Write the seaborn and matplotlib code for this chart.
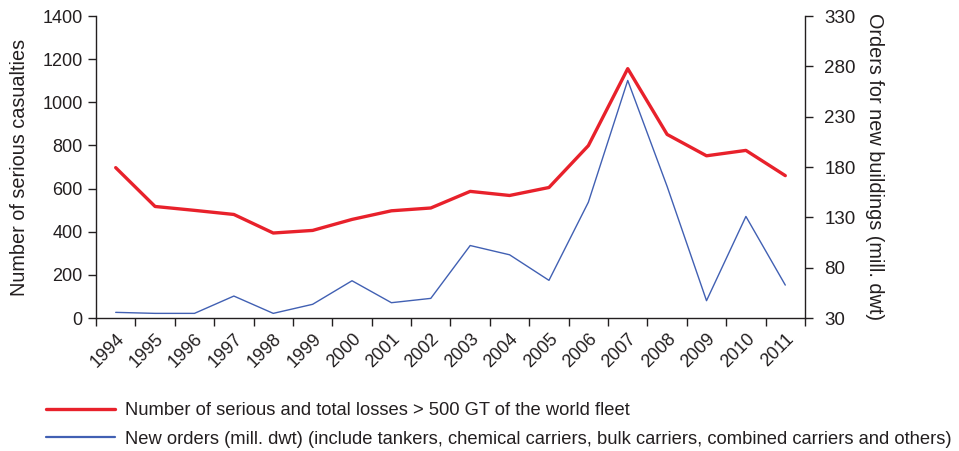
import numpy as np
import pandas as pd
import seaborn as sns
import matplotlib.pyplot as plt

years = [str(y) for y in range(1994, 2012)]
casualties = [697, 517, 499, 480, 394, 406, 457, 497, 510, 587,
              568, 605, 799, 1156, 851, 752, 777, 660]
new_orders = [35.6, 34.6, 34.6, 51.8, 34.6, 43.6, 67, 45.2, 49.5, 102,
              92.8, 67.4, 145, 266, 160.7, 47.2, 130.9, 62.7]

label_red = "Number of serious and total losses > 500 GT of the world fleet"
label_blue = ("New orders (mill. dwt) (include tankers, chemical carriers, "
              "bulk carriers, combined carriers and others)")

df = pd.DataFrame({"pos": np.arange(len(years)), "casualties": casualties,
                   "orders": new_orders})

sns.set_style("ticks")
plt.rcParams['font.family'] = ['Liberation Sans', 'DejaVu Sans']
plt.rcParams['text.color'] = '#231f20'
plt.rcParams['axes.labelcolor'] = '#231f20'
plt.rcParams['xtick.color'] = '#231f20'
plt.rcParams['ytick.color'] = '#231f20'

fig = plt.figure(figsize=(9.59, 4.51), dpi=100)
ax = fig.add_axes([0.1001, 0.2949, 0.7393, 0.6696])
ax2 = ax.twinx()

sns.lineplot(data=df, x="pos", y="casualties", ax=ax, color="#e8212b",
             linewidth=2.4, label=label_red, legend=False)
sns.lineplot(data=df, x="pos", y="orders", ax=ax2, color="#4160b3",
             linewidth=1.0, label=label_blue, legend=False)

ax.set_xlim(-0.5, len(years) - 0.5)
ax.set_ylim(0, 1400)
ax.set_yticks(range(0, 1401, 200))
ax2.set_ylim(30, 330)
ax2.set_yticks(range(30, 331, 50))

ax.set_xticks(df["pos"])
ax.set_xticklabels(years, rotation=45, ha="right", rotation_mode="anchor")
ax.tick_params(axis="x", which="major", length=0, pad=9, labelsize=13)
ax.set_xticks(np.arange(-0.5, len(years)), minor=True)
ax.tick_params(axis="x", which="minor", length=6, width=1)
ax.tick_params(axis="y", length=6, width=1, labelsize=13)
ax2.tick_params(axis="y", length=6, width=1, labelsize=13.5, pad=8)

ax.set_xlabel("")
ax.set_ylabel("Number of serious casualties", fontsize=14.3, labelpad=10)
ax2.set_ylabel("Orders for new buildings (mill. dwt)", fontsize=14.3,
               rotation=270, labelpad=20)

for a in (ax, ax2):
    a.spines["top"].set_visible(False)
    for s in a.spines.values():
        s.set_linewidth(1)
        s.set_color('#231f20')
ax.spines["right"].set_visible(False)
ax2.spines["left"].set_visible(False)
ax2.spines["bottom"].set_visible(False)

h1, l1 = ax.get_legend_handles_labels()
h2, l2 = ax2.get_legend_handles_labels()
leg = fig.legend(h1 + h2, l1 + l2, loc="upper left",
                 bbox_to_anchor=(0.04, 0.125), frameon=False, fontsize=13.2,
                 handlelength=3.8, handletextpad=0.55, labelspacing=0.65,
                 borderaxespad=0)
leg.get_lines()[1].set_linewidth(1.6)

fig.savefig("out.png", dpi=100)
